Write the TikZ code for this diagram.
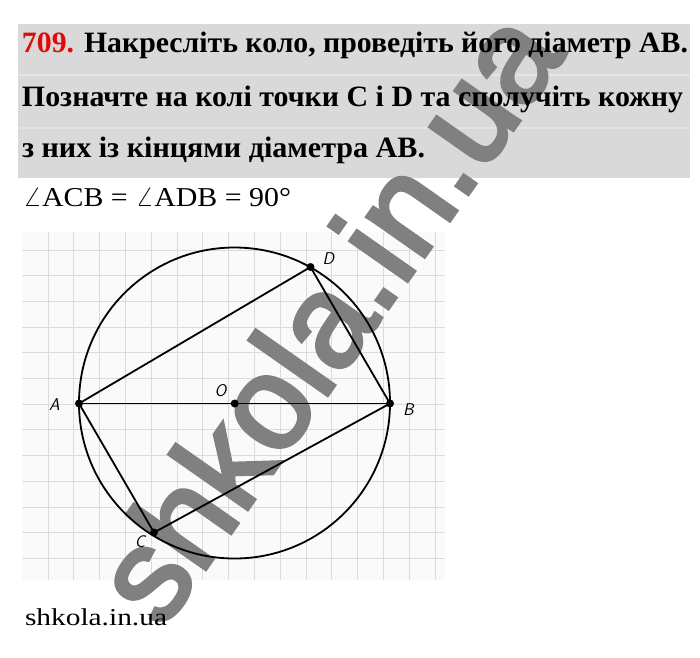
\documentclass[tikz,border=0pt]{standalone}
\usepackage{fontspec}
\setmainfont{Liberation Serif}
\newfontfamily\wmfont[FakeBold=3]{Liberation Sans}
\usepackage{graphicx}
\definecolor{hdrgray}{RGB}{217,217,217}
\definecolor{hdrline}{RGB}{228,228,228}
\definecolor{gridc}{RGB}{214,220,226}
\definecolor{numred}{RGB}{225,10,10}
\definecolor{paper}{RGB}{250,250,250}
\definecolor{wmgray}{RGB}{128,128,128}
\newcommand{\fitline}[3]{\resizebox{#1}{#2}{\fontsize{10}{12}\selectfont\smash{#3}\rule{0pt}{6.6pt}}}
\tikzset{
  txt/.style={anchor=base west, inner sep=0pt, outer sep=0pt},
  dot/.style={circle, fill=black, inner sep=0pt, minimum size=8pt},
  seg/.style={line width=1.8pt, black},
  lbl/.style={inner sep=0pt, font=\sffamily\itshape\fontsize{17}{17}\selectfont},
}
\begin{document}
\begin{tikzpicture}[x=1pt,y=-1pt]
\useasboundingbox (0,0) rectangle (700,657);
\fill[white] (0,0) rectangle (700,657);
% header background
\fill[hdrgray] (18,24) rectangle (690,178);
\draw[hdrline, line width=1.2pt] (18,75) -- (690,75);
\draw[hdrline, line width=1.2pt] (18,128) -- (690,128);
% paper
\fill[paper] (22,232) rectangle (445,580);
\begin{scope}
\clip (22,232) rectangle (445,580);
\foreach \i in {0,...,15} \draw[gridc, line width=1pt] ({48+25.8*\i},232) -- ({48+25.8*\i},580);
\foreach \j in {-1,0,...,13} \draw[gridc, line width=1pt] (22,{250+25.7*\j}) -- (445,{250+25.7*\j});
\end{scope}
% watermark (under the black drawing and text)
\node[rotate=55, anchor=base, inner sep=0pt, text=wmgray] (wm) at (364.6,342) {\wmfont\fontsize{132}{132}\selectfont shkola.in.ua};
% header text
\node[txt] (h1) at (22,52) {\fitline{666pt}{19.5pt}{\bfseries\textcolor{numred}{709.} Накресліть коло, проведіть його діаметр AB.}};
\node[txt] (h2) at (22,106) {\fitline{661pt}{19.5pt}{\bfseries Позначте на колі точки C і D та сполучіть кожну}};
\node[txt] (h3) at (22,157) {\fitline{403pt}{19.5pt}{\bfseries з них із кінцями діаметра AB.}};
\node[txt] (ans) at (23,206) {\fitline{268pt}{18pt}{$\angle$ACB = $\angle$ADB = 90°}};
% geometry
\coordinate (Oc) at (234.5,403);
\draw[seg] (Oc) circle[radius=155.5pt];
\node[dot] (A) at (79,403.5) {};
\node[dot] (B) at (390,403.5) {};
\node[dot] (O) at (234.7,403.5) {};
\node[dot] (D) at (310.5,267) {};
\node[dot] (C) at (154,532.5) {};
\draw[seg] (A.center) -- (B.center);
\draw[seg] (A.center) -- (D.center) -- (B.center);
\draw[seg] (A.center) -- (C.center) -- (B.center);
\node[lbl] (lA) at (54.5,405) {A};
\node[lbl] (lO) at (220.5,391) {O};
\node[lbl] (lB) at (408.5,409.5) {B};
\node[lbl] (lD) at (328.5,258.5) {D};
\node[lbl] (lC) at (140,542) {C};
% footer
\node[txt] (foot) at (25,625) {\fitline{142pt}{16pt}{shkola.in.ua}};
\end{tikzpicture}
\end{document}
